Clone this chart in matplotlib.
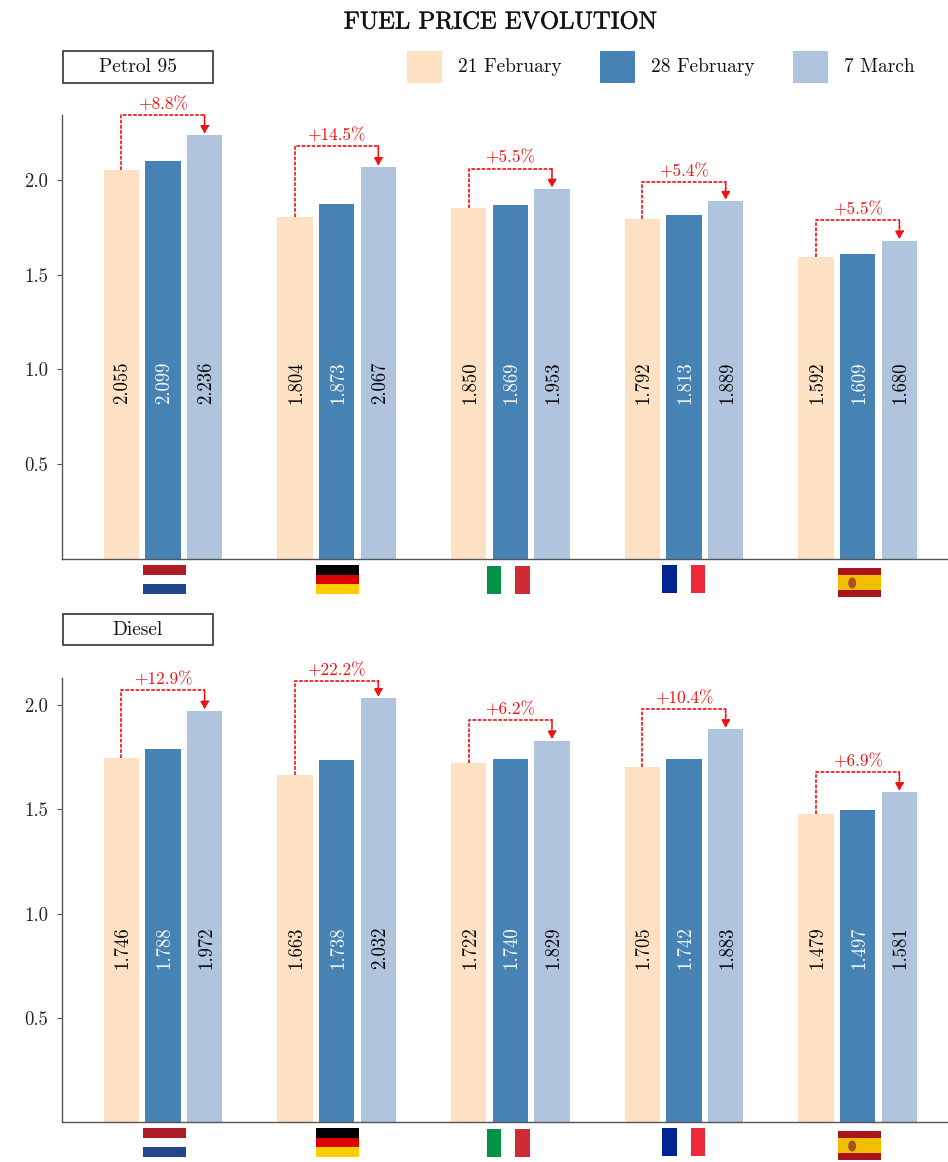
import matplotlib
matplotlib.use('Agg')
import matplotlib.pyplot as plt
import matplotlib.patheffects as pe
from matplotlib.patches import Rectangle, Ellipse

plt.rcParams['font.family'] = ['cmr10', 'DejaVu Serif']
plt.rcParams['axes.unicode_minus'] = False
plt.rcParams['axes.formatter.use_mathtext'] = True

W, H = 948, 1162

countries = ['nl', 'de', 'it', 'fr', 'es']
dates = ['21 February', '28 February', '7 March']
colors = ['#FDE1C2', '#4682B4', '#B0C4DE']
label_colors = ['black', 'white', 'black']

# prices per date, in country order
petrol_21 = [2.055, 1.804, 1.850, 1.792, 1.592]
petrol_28 = [2.099, 1.873, 1.869, 1.813, 1.609]
petrol_07 = [2.236, 2.067, 1.953, 1.889, 1.680]
petrol_pct = ['+8.8%', '+14.5%', '+5.5%', '+5.4%', '+5.5%']
petrol_bracket = [2.341, 2.181, 2.060, 1.991, 1.789]

diesel_21 = [1.746, 1.663, 1.722, 1.705, 1.479]
diesel_28 = [1.788, 1.738, 1.740, 1.742, 1.497]
diesel_07 = [1.972, 2.032, 1.829, 1.883, 1.581]
diesel_pct = ['+12.9%', '+22.2%', '+6.2%', '+10.4%', '+6.9%']
diesel_bracket = [2.073, 2.117, 1.930, 1.981, 1.679]

yticks = [0.5, 1.0, 1.5, 2.0]

BAR_W = 0.204
STEP = 0.24
RED = '#F01010'
DASH = (0, (2.2, 0.9))

# flags are not quite centred on their groups
flag_shift = {'nl': 2, 'de': 1, 'it': -2, 'fr': 0, 'es': 2}

fig = plt.figure(figsize=(W / 100, H / 100), dpi=100)

# overlay in pixel coordinates for flags, boxes and legend
ov = fig.add_axes([0, 0, 1, 1], zorder=5)
ov.set_xlim(0, W)
ov.set_ylim(H, 0)
ov.axis('off')


def rect(x0, y0, x1, y1, color):
    ov.add_patch(Rectangle((x0, y0), x1 - x0, y1 - y0, facecolor=color, edgecolor='none'))


def draw_flag(name, cx, top):
    cx = cx + flag_shift[name]
    x0 = cx - 21.5
    x1 = cx + 21.5
    if name == 'nl':
        rect(x0, top, x1, top + 10, '#AE1C28')
        rect(x0, top + 19, x1, top + 29, '#21468B')
    elif name == 'de':
        rect(x0, top, x1, top + 10, '#000000')
        rect(x0, top + 10, x1, top + 19, '#DD0000')
        rect(x0, top + 19, x1, top + 29, '#FFCE00')
    elif name == 'it':
        rect(x0, top + 1, x0 + 14.5, top + 29, '#009246')
        rect(x1 - 14.5, top + 1, x1, top + 29, '#CE2B37')
    elif name == 'fr':
        rect(x0, top, x0 + 14.5, top + 28, '#002395')
        rect(x1 - 14.5, top, x1, top + 28, '#ED2939')
    elif name == 'es':
        top = top + 3
        rect(x0, top, x1, top + 29, '#AA151B')
        rect(x0, top + 7, x1, top + 22, '#F1BF00')
        ov.add_patch(Ellipse((x0 + 14, top + 15), 8, 11, facecolor='#A8522A', edgecolor='none'))


def draw_panel(top, bottom, ymax, series, pct, bracket, label_y):
    ax = fig.add_axes([62 / W, (H - bottom) / H, (W - 62) / W, (bottom - top) / H])
    ax.set_xlim(-0.581, 4.52)
    ax.set_ylim(0, ymax)
    for s in ['top', 'right']:
        ax.spines[s].set_visible(False)
    for s in ['left', 'bottom']:
        ax.spines[s].set_color('#555555')
        ax.spines[s].set_linewidth(1.0)
    ax.set_xticks([])
    ax.set_yticks(yticks)
    ax.set_yticklabels(['%.1f' % t for t in yticks])
    ax.tick_params(axis='y', length=3.5, width=0.8, color='#555555', labelsize=13.5, pad=6.5, labelcolor='#222222')

    for j, vals in enumerate(series):
        xs = [i + (j - 1) * STEP for i in range(len(vals))]
        ax.bar(xs, vals, width=BAR_W, color=colors[j])
        for x, v in zip(xs, vals):
            ax.text(x + 0.008, label_y, '%.3f' % v, rotation=90, ha='center', va='center',
                    color=label_colors[j], fontsize=13.5)

    # dashed bracket from the first bar to the last one
    for i in range(len(pct)):
        first = series[0][i]
        last = series[2][i]
        level = bracket[i]
        x0 = i - STEP
        x2 = i + STEP
        ax.plot([x0, x0, x2], [first, level, level], color=RED, lw=1.2, ls=DASH, clip_on=False)
        ax.annotate('', xy=(x2, last + 0.008), xytext=(x2, level), annotation_clip=False,
                    arrowprops=dict(arrowstyle='-|>,head_width=0.25,head_length=0.45', color=RED,
                                    lw=1.2, ls=DASH, shrinkA=0, shrinkB=0))
        ax.annotate(pct[i], xy=(i, level), xytext=(0, 1.8), textcoords='offset points',
                    ha='center', va='bottom', color=RED, fontsize=12.4, annotation_clip=False)

    # flags under each group
    for i, name in enumerate(countries):
        cx = ax.transData.transform((i, 0))[0]
        draw_flag(name, cx, bottom + 6)
    return ax


draw_panel(115, 559, 2.343, [petrol_21, petrol_28, petrol_07], petrol_pct, petrol_bracket, 0.93)
draw_panel(678, 1122, 2.13, [diesel_21, diesel_28, diesel_07], diesel_pct, diesel_bracket, 0.835)

fig.text(500 / W, 1 - 22.5 / H, 'FUEL PRICE EVOLUTION', ha='center', va='center',
         fontsize=17.7, color='#111111',
         path_effects=[pe.withStroke(linewidth=0.3, foreground='#111111')])

# panel name boxes
for label, y0, y1 in [('Petrol 95', 51, 83), ('Diesel', 614, 645)]:
    ov.add_patch(Rectangle((63, y0), 150, y1 - y0, facecolor='white', edgecolor='#333333', lw=1.2))
    ov.text(138, (y0 + y1) / 2 + 0.5, label, ha='center', va='center', fontsize=14, color='#111111')

# legend
for d, c, x in zip(dates, colors, [407, 600, 793]):
    rect(x, 51, x + 35.5, 83, c)
    ov.text(x + 51, 67.5, d, ha='left', va='center', fontsize=14, color='#111111')

fig.savefig('out.png', dpi=100)
